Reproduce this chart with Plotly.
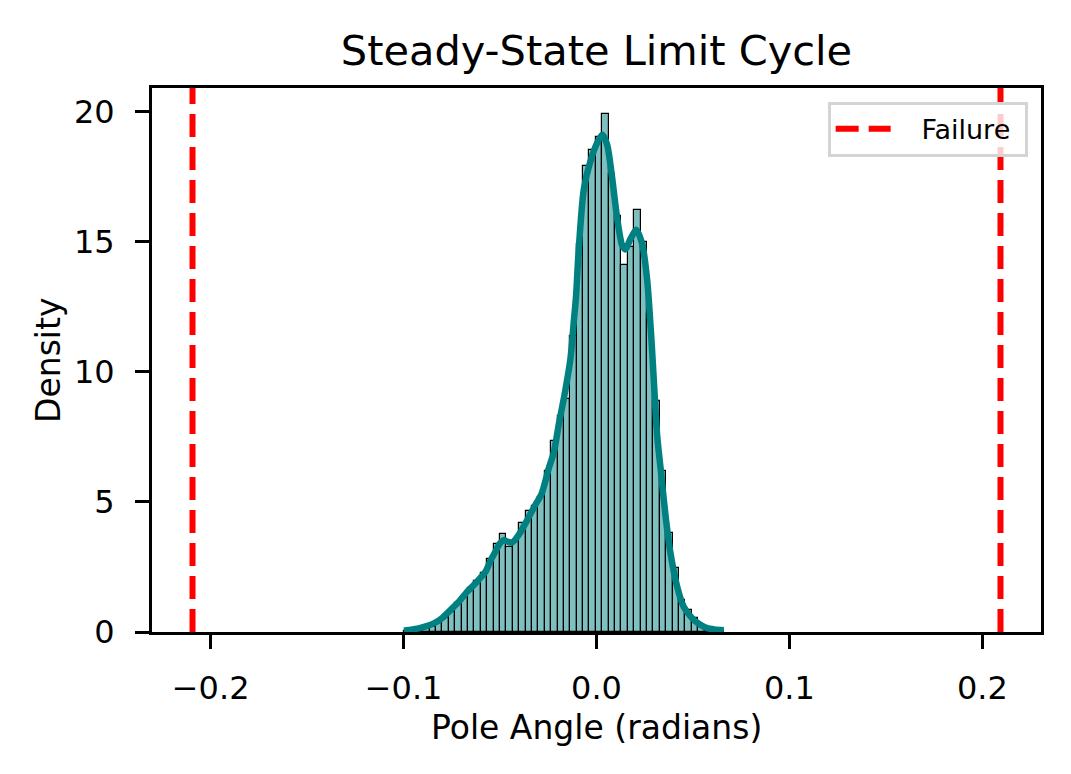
import numpy as np
import plotly.graph_objects as go

# histogram of the pole angle, 50 equal bins, density normalised
bin_start = -0.0998
bin_width = 0.003316
bar_density = [
    0.03, 0.05, 0.08, 0.13, 0.20, 0.33, 0.53, 0.78, 1.10, 1.38,
    1.70, 1.95, 2.26, 2.80, 3.40, 3.76, 3.28, 3.54, 4.18, 4.65,
    4.85, 5.20, 6.20, 7.32, 8.28, 8.96, 11.36, 14.90, 17.90, 18.50,
    19.00, 19.90, 17.60, 16.00, 14.10, 14.80, 16.20, 15.00, 12.20, 8.86,
    6.20, 3.80, 2.45, 1.23, 0.85, 0.53, 0.20, 0.12, 0.06, 0.03,
]

# kde curve
kde_angle = [
    -0.0998, -0.0953, -0.0912, -0.0843, -0.0798, -0.0756, -0.0715, -0.0670,
    -0.0627, -0.0575, -0.0549, -0.0523, -0.0503, -0.0480, -0.0461, -0.0437,
    -0.0403, -0.0359, -0.0316, -0.0285, -0.0247, -0.0221, -0.0195, -0.0166,
    -0.0135, -0.0118, -0.0106, -0.0093, -0.0066, -0.0031, 0.0004, 0.0030,
    0.0055, 0.0081, 0.0107, 0.0133, 0.0150, 0.0176, 0.0207, 0.0237,
    0.0263, 0.0285, 0.0315, 0.0332, 0.0358, 0.0383, 0.0418, 0.0452,
    0.0496, 0.0534, 0.0574, 0.0611, 0.0660,
]
kde_density = [
    0.05, 0.10, 0.16, 0.33, 0.55, 0.85, 1.15, 1.55,
    1.87, 2.32, 2.75, 3.10, 3.38, 3.53, 3.47, 3.44,
    3.73, 4.30, 4.90, 5.30, 6.30, 6.90, 8.00, 9.10,
    10.50, 11.90, 12.90, 14.60, 17.00, 18.10, 18.80, 19.10,
    18.73, 17.45, 15.90, 14.85, 14.70, 15.10, 15.45, 14.90,
    13.50, 11.20, 7.50, 6.30, 4.45, 3.05, 1.75, 0.97,
    0.53, 0.30, 0.15, 0.10, 0.07,
]

failure_angle = [-0.2094, 0.2094]

x_ticks = [-0.2, -0.1, 0.0, 0.1, 0.2]
y_ticks = [0, 5, 10, 15, 20]
x_range = [-0.2304, 0.2304]
y_range = [0, 20.9]

bin_centers = bin_start + bin_width * (np.arange(len(bar_density)) + 0.5)

fig = go.Figure()
fig.add_trace(go.Bar(
    x=bin_centers, y=bar_density, width=bin_width,
    marker=dict(color='rgba(0,128,128,0.5)', line=dict(color='black', width=1.2)),
    showlegend=False,
))
fig.add_trace(go.Scatter(
    x=kde_angle, y=kde_density, mode='lines',
    line=dict(color='#008080', width=6.5, shape='spline', smoothing=0.7),
    showlegend=False,
))
for i, t in enumerate(failure_angle):
    fig.add_trace(go.Scatter(
        x=[t, t], y=y_range, mode='lines',
        name='\u00a0\u00a0\u00a0Failure\u00a0',  # nbsp padding like the mpl legend
        line=dict(color='red', width=6, dash='23px,10px'),
        showlegend=(i == 0),
    ))

axis_style = dict(
    ticks='outside', ticklen=14, tickwidth=3, tickcolor='black',
    showline=True, linewidth=3, linecolor='black', mirror=True,
    showgrid=False, zeroline=False,
)

fig.update_xaxes(range=x_range, tickvals=x_ticks, tickformat='.1f',
                 ticklabelstandoff=12, **axis_style)
fig.update_yaxes(range=y_range, tickvals=y_ticks, ticklabelstandoff=14, **axis_style)

# page body has an 8px margin, so the figure is 8px smaller than the window
fig.update_layout(
    width=1063, height=766,
    margin=dict(l=144, r=30, t=80, b=142),
    plot_bgcolor='white', paper_bgcolor='white',
    font=dict(family='DejaVu Sans', size=32, color='black'),
    title=dict(text='Steady-State Limit Cycle', x=0.5, xref='paper', xanchor='center',
               y=1 - 42 / 766, yref='container', yanchor='middle',
               font=dict(size=41.5)),
    bargap=0,
    legend=dict(x=0.985, xanchor='right', y=0.975, yanchor='top',
                bgcolor='rgba(255,255,255,0.8)', bordercolor='#d4d4d4', borderwidth=3,
                font=dict(size=27), itemwidth=55),
    annotations=[
        dict(text='Pole Angle (radians)', xref='paper', yref='paper', x=0.5, y=-0.175,
             xanchor='center', yanchor='middle', showarrow=False, font=dict(size=33)),
        dict(text='Density', xref='paper', yref='paper', x=-0.117, y=0.5, textangle=-90,
             xanchor='center', yanchor='middle', showarrow=False, font=dict(size=33)),
    ],
)

fig.write_html("out.html")
